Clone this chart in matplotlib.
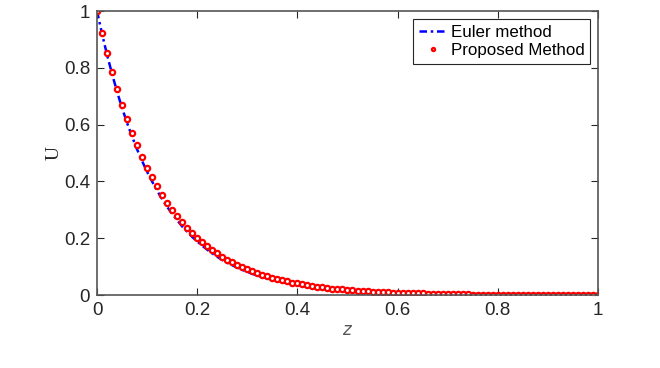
import numpy as np
import matplotlib.pyplot as plt

# values, z from 0 to 1 in steps of 0.01
z = np.linspace(0, 1, 101)

euler_u = [1.000, 0.920, 0.846, 0.779, 0.716, 0.659, 0.606, 0.558, 0.513, 0.472,
           0.434, 0.400, 0.368, 0.338, 0.311, 0.286, 0.264, 0.242, 0.223, 0.205,
           0.189, 0.174, 0.160, 0.147, 0.135, 0.124, 0.114, 0.105, 0.097, 0.089,
           0.082, 0.075, 0.069, 0.064, 0.059, 0.054, 0.050, 0.046, 0.042, 0.039,
           0.036, 0.033, 0.030, 0.028, 0.026, 0.023, 0.022, 0.020, 0.018, 0.017,
           0.015, 0.014, 0.013, 0.012, 0.011, 0.010, 0.009, 0.009, 0.008, 0.007,
           0.007, 0.006, 0.006, 0.005, 0.005, 0.004, 0.004, 0.004, 0.003, 0.003,
           0.003, 0.003, 0.003, 0.002, 0.002, 0.002, 0.002, 0.002, 0.001, 0.001,
           0.001, 0.001, 0.001, 0.001, 0.001, 0.001, 0.001, 0.001, 0.001, 0.001,
           0.001, 0.000, 0.000, 0.000, 0.000, 0.000, 0.000, 0.000, 0.000, 0.000,
           0.000]

proposed_u = [1.000, 0.923, 0.852, 0.787, 0.726, 0.670, 0.619, 0.571, 0.527, 0.487,
              0.449, 0.415, 0.383, 0.353, 0.326, 0.301, 0.278, 0.257, 0.237, 0.219,
              0.202, 0.186, 0.172, 0.159, 0.147, 0.135, 0.125, 0.115, 0.106, 0.098,
              0.091, 0.084, 0.077, 0.071, 0.066, 0.061, 0.056, 0.052, 0.048, 0.044,
              0.041, 0.038, 0.035, 0.032, 0.030, 0.027, 0.025, 0.023, 0.021, 0.020,
              0.018, 0.017, 0.016, 0.014, 0.013, 0.012, 0.011, 0.010, 0.010, 0.009,
              0.008, 0.008, 0.007, 0.006, 0.006, 0.006, 0.005, 0.005, 0.004, 0.004,
              0.004, 0.003, 0.003, 0.003, 0.003, 0.002, 0.002, 0.002, 0.002, 0.002,
              0.002, 0.002, 0.001, 0.001, 0.001, 0.001, 0.001, 0.001, 0.001, 0.001,
              0.001, 0.001, 0.001, 0.001, 0.001, 0.001, 0.000, 0.000, 0.000, 0.000,
              0.000]

ticks = [0, 0.2, 0.4, 0.6, 0.8, 1]
tick_labels = ['0', '0.2', '0.4', '0.6', '0.8', '1']

plt.rcParams['font.family'] = ['Liberation Sans', 'DejaVu Sans']

fig = plt.figure(figsize=(6.6, 3.68), dpi=100)
ax = fig.add_axes([0.147, 0.198, 0.759, 0.772])

ax.plot(z, euler_u, color='blue', linestyle=(0, (3, 1.5, 1, 1.5)), linewidth=1.8,
        label='Euler method')
ax.plot(z, proposed_u, linestyle='none', marker='o', markersize=3.8,
        markeredgecolor='red', markerfacecolor='white', markeredgewidth=1.6,
        label='Proposed Method')

ax.set_xlim(0, 1)
ax.set_ylim(0, 1)
ax.set_xticks(ticks)
ax.set_xticklabels(tick_labels)
ax.set_yticks(ticks)
ax.set_yticklabels(tick_labels)
ax.tick_params(direction='in', length=5, width=0.8, labelsize=13.5, colors='#262626',
               top=True, right=True, pad=5)
for s in ax.spines.values():
    s.set_color('#555555')
    s.set_linewidth(1.2)

ax.set_xlabel('$z$', fontsize=12, color='#555555', labelpad=3)
ax.set_ylabel('U', fontsize=14, family='Liberation Serif', color='#262626', labelpad=1)

leg = ax.legend(loc='upper right', fontsize=12.2, fancybox=False, edgecolor='#262626',
                framealpha=1, borderaxespad=0.45, handlelength=1.6, borderpad=0.35,
                labelspacing=0.2, handletextpad=0.25, markerscale=0.6)
leg.get_frame().set_linewidth(0.8)

fig.savefig('out.png', dpi=100)
